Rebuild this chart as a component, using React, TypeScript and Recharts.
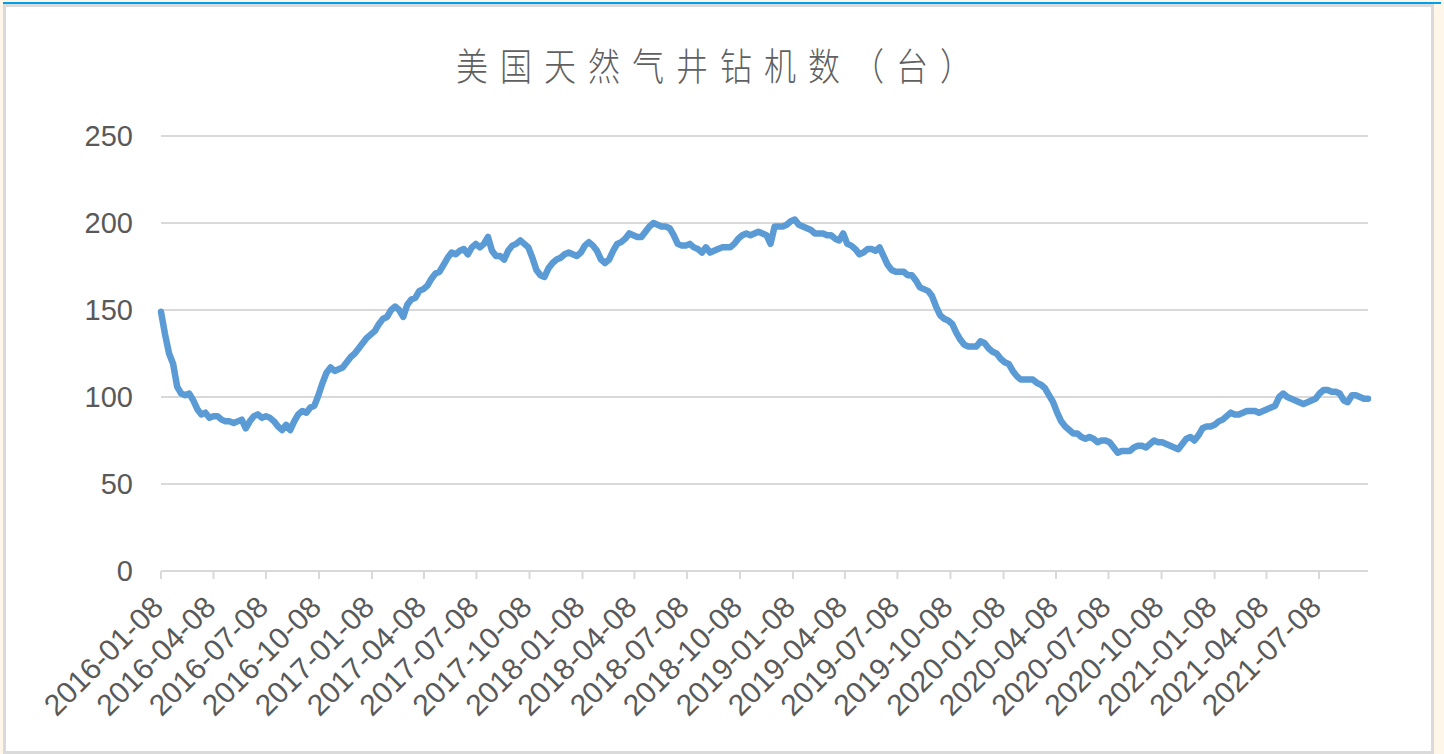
import { CartesianGrid, Line, LineChart, XAxis, YAxis } from "recharts";

const title = "美国天然气井钻机数（台）";

// weekly readings, first week 2016-01-08
const firstWeek = "2016-01-08";
const rigCounts = [
  149, 136, 125, 119, 106, 102, 101, 102, 98, 93,
  90, 91, 88, 89, 89, 87, 86, 86, 85, 86,
  87, 82, 86, 89, 90, 88, 89, 88, 86, 83,
  81, 84, 81, 86, 90, 92, 91, 94, 95, 101,
  108, 114, 117, 115, 116, 117, 120, 123, 125, 128,
  131, 134, 136, 138, 142, 145, 146, 150, 152, 150,
  146, 153, 156, 157, 161, 162, 164, 168, 171, 172,
  176, 180, 183, 182, 184, 185, 182, 186, 188, 186,
  188, 192, 184, 181, 181, 179, 184, 187, 188, 190,
  188, 186, 180, 173, 170, 169, 174, 177, 179, 180,
  182, 183, 182, 181, 183, 187, 189, 187, 184, 179,
  177, 179, 184, 188, 189, 191, 194, 193, 192, 192,
  195, 198, 200, 199, 198, 198, 197, 193, 188, 187,
  187, 188, 186, 185, 183, 186, 183, 184, 185, 186,
  186, 186, 188, 191, 193, 194, 193, 194, 195, 194,
  193, 188, 198, 198, 198, 199, 201, 202, 199, 198,
  197, 196, 194, 194, 194, 193, 193, 191, 190, 194,
  188, 187, 185, 182, 183, 185, 185, 184, 186, 181,
  176, 173, 172, 172, 172, 170, 170, 167, 163, 162,
  161, 158, 152, 147, 145, 144, 142, 137, 133, 130,
  129, 129, 129, 132, 131, 128, 126, 125, 122, 120,
  119, 115, 112, 110, 110, 110, 110, 108, 107, 105,
  101, 97, 91, 86, 83, 81, 79, 79, 77, 76,
  77, 76, 74, 75, 75, 74, 71, 68, 69, 69,
  69, 71, 72, 72, 71, 73, 75, 74, 74, 73,
  72, 71, 70, 73, 76, 77, 75, 78, 82, 83,
  83, 84, 86, 87, 89, 91, 90, 90, 91, 92,
  92, 92, 91, 92, 93, 94, 95, 100, 102, 100,
  99, 98, 97, 96, 97, 98, 99, 102, 104, 104,
  103, 103, 102, 98, 97, 101, 101, 100, 99, 99,
];

const tickLabels = [
  "2016-01-08", "2016-04-08", "2016-07-08", "2016-10-08",
  "2017-01-08", "2017-04-08", "2017-07-08", "2017-10-08",
  "2018-01-08", "2018-04-08", "2018-07-08", "2018-10-08",
  "2019-01-08", "2019-04-08", "2019-07-08", "2019-10-08",
  "2020-01-08", "2020-04-08", "2020-07-08", "2020-10-08",
  "2021-01-08", "2021-04-08", "2021-07-08",
];

const yTicks = [0, 50, 100, 150, 200, 250];

const DAY = 86400000;
const toTime = (s: string) => Date.parse(s + "T00:00:00Z");
const t0 = toTime(firstWeek);
const data = rigCounts.map((v, i) => ({ t: t0 + i * 7 * DAY, v }));
const xTicks = tickLabels.map(toTime);
const fmtDate = (t: number) => new Date(t).toISOString().slice(0, 10);

const textColor = "#595959";
const gridColor = "#d9d9d9";
const labelFont = "'Liberation Sans', Arial, sans-serif";

function DateTick({ x, y, payload }: any) {
  const ax = x + 4;
  const ay = y + 28;
  return (
    <text
      x={ax}
      y={ay}
      textAnchor="end"
      transform={`rotate(-45, ${ax}, ${ay})`}
      fontSize={30}
      fill={textColor}
      fontFamily={labelFont}
    >
      {fmtDate(payload.value)}
    </text>
  );
}

export default function App() {
  return (
    <div style={{ position: "absolute", left: 0, top: 0, width: 1444, height: 754, background: "#fdf6e9" }}>
      <div style={{ position: "absolute", left: 3, top: 2, width: 1438, height: 2, background: "#00a0e9" }} />
      <div
        style={{
          position: "absolute",
          left: 3,
          top: 4,
          width: 1431,
          height: 750,
          boxSizing: "border-box",
          border: "3px solid #dadada",
          background: "#fff",
        }}
      />
      <div
        style={{
          position: "absolute",
          left: 456,
          top: 46,
          whiteSpace: "nowrap",
          fontFamily: "'Noto Sans CJK SC', sans-serif",
          fontSize: 32,
          fontWeight: 300,
          lineHeight: "34px",
          letterSpacing: 12,
          color: "#606060",
          transform: "scaleY(1.18)",
        }}
      >
        {title}
      </div>
      <div style={{ position: "absolute", left: 0, top: 0 }}>
        <LineChart width={1444} height={754} data={data} margin={{ top: 136, right: 76, bottom: 83, left: 61 }}>
          <CartesianGrid vertical={false} stroke={gridColor} strokeWidth={2} />
          <XAxis
            dataKey="t"
            type="number"
            scale="time"
            domain={[data[0].t, data[data.length - 1].t]}
            ticks={xTicks}
            interval={0}
            height={100}
            axisLine={{ stroke: gridColor, strokeWidth: 2 }}
            tickLine={{ stroke: gridColor, strokeWidth: 2 }}
            tickSize={8}
            tickMargin={2}
            tick={<DateTick />}
          />
          <YAxis
            domain={[0, 250]}
            ticks={yTicks}
            width={100}
            axisLine={false}
            tickLine={false}
            tickSize={0}
            tickMargin={28}
            tick={{ fontSize: 29, fill: textColor, fontFamily: labelFont }}
          />
          <Line
            type="linear"
            dataKey="v"
            stroke="#5b9bd5"
            strokeWidth={6.5}
            strokeLinejoin="round"
            strokeLinecap="round"
            dot={false}
            isAnimationActive={false}
          />
        </LineChart>
      </div>
    </div>
  );
}
